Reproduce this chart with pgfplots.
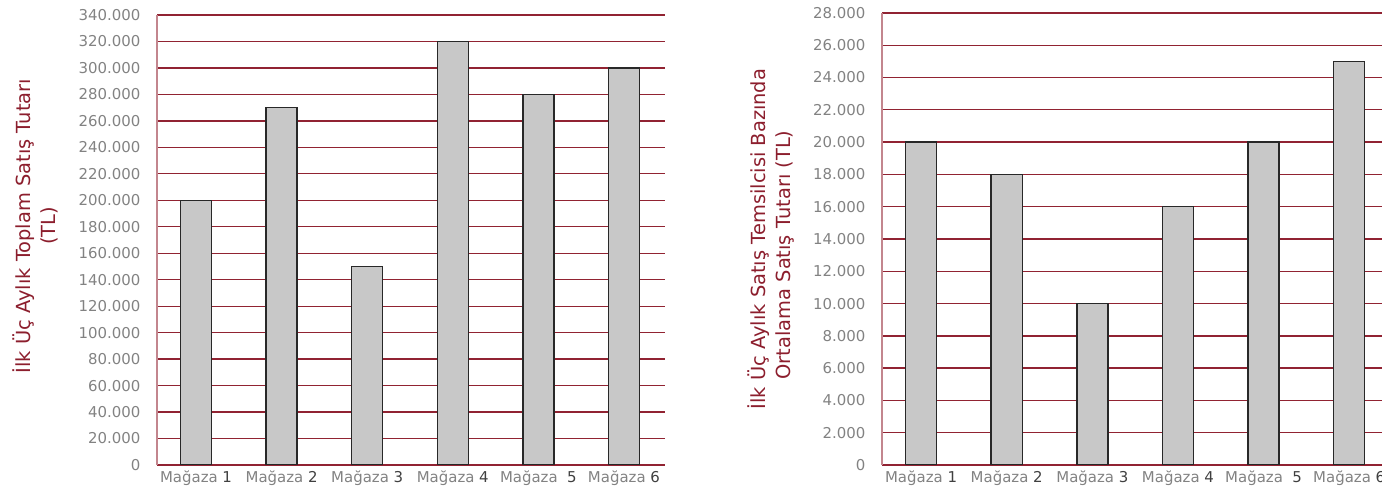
\documentclass[border=0pt]{standalone}
\usepackage{pgfplots}
\pgfplotsset{compat=1.18}
\usepackage{fontspec}
\setmainfont{DejaVu Sans}

\definecolor{gridred}{RGB}{145,35,50}
\definecolor{labred}{RGB}{140,30,45}
\definecolor{tickgray}{RGB}{130,130,130}
\definecolor{barfill}{RGB}{200,200,200}
\definecolor{baredge}{RGB}{40,40,40}

\pgfplotsset{
  salesbar/.style={
    scale only axis,
    ybar, bar width=31bp, bar shift=0pt,
    axis lines=left,
    axis line style={-, draw=gridred, line width=1.3bp},
    y axis line style={draw=gridred!55},
    enlargelimits=false,
    ymin=0,
    xtick=data,
    xticklabels={Mağaza {\color{black!75}1}, Mağaza {\color{black!75}2}, Mağaza {\color{black!75}3},
                 Mağaza {\color{black!75}4}, Mağaza\ \ {\color{black!75}5}, Mağaza {\color{black!75}6}},
    tick style={draw=none},
    major tick length=0pt,
    ymajorgrids,
    grid style={draw=gridred, line width=1.3bp},
    scaled y ticks=false,
    /pgf/number format/.cd, fixed, 1000 sep={.}, assume math mode=true, /pgfplots/.cd,
    ticklabel style={font=\fontsize{15}{17}\selectfont, text=tickgray},
    yticklabel style={xshift=-13bp},
    xticklabel style={yshift=-2bp},
    ylabel style={anchor=center, text=labred, font=\fontsize{19.5}{25}\selectfont, align=center},
  },
  salesbar plot/.style={fill=barfill, draw=baredge, line width=1.4bp},
}

\begin{document}
\begin{tikzpicture}[x=1bp,y=1bp]
\path[use as bounding box] (0,0) rectangle (1382,502);
\clip (0,0) rectangle (1382,502);

% left: total sales in the first three months
\begin{axis}[salesbar,
  at={(157bp,37bp)}, anchor=south west,
  width=508bp, height=450bp,
  xmin=0.544, xmax=6.48,
  ymax=340000, ytick distance=20000,
  ylabel={İlk Üç Aylık Toplam Satış Tutarı\\(TL)},
  ylabel style={at={(axis description cs:-0.24,0.531)}},
]
\addplot[salesbar plot] coordinates {(1,200000) (2,270000) (3,150000) (4,320000) (5,280000) (6,300000)};
\end{axis}

% right: average per sales representative
\begin{axis}[salesbar,
  at={(882bp,37bp)}, anchor=south west,
  width=510bp, height=452bp,
  xmin=0.544, xmax=6.5,
  ymax=28000, ytick distance=2000,
  ylabel={İlk Üç Aylık Satış Temsilcisi Bazında\\Ortalama Satış Tutarı (TL)\hspace*{32bp}},
  ylabel style={at={(axis description cs:-0.218,0.5)}},
]
\addplot[salesbar plot] coordinates {(1,20000) (2,18000) (3,10000) (4,16000) (5,20000) (6,25000)};
\end{axis}
\end{tikzpicture}
\end{document}
